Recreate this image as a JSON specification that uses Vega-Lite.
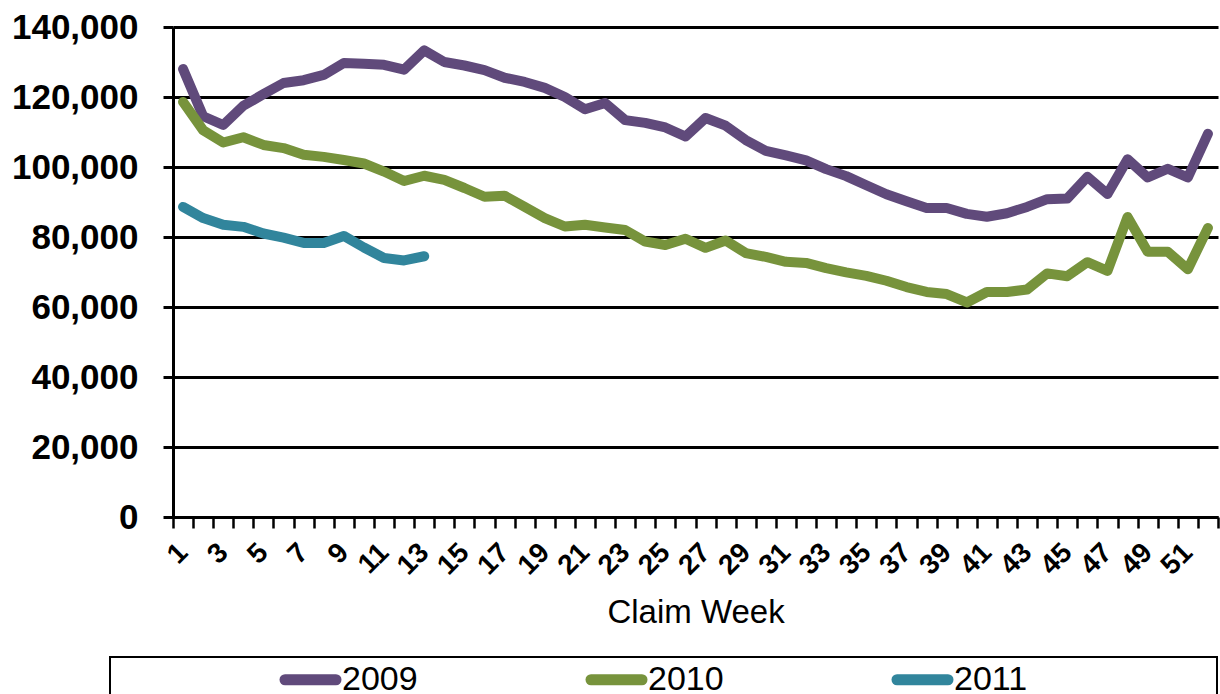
{
  "$schema": "https://vega.github.io/schema/vega-lite/v6.json",
  "width": 1045,
  "height": 490,
  "autosize": "none",
  "padding": {"left": 173, "top": 27, "right": 2, "bottom": 177},
  "background": "white",
  "datasets": {
    "claims": [
      {"week":1,"year":"2009","claims":128000},{"week":2,"year":"2009","claims":114500},{"week":3,"year":"2009","claims":112000},{"week":4,"year":"2009","claims":117500},{"week":5,"year":"2009","claims":120800},{"week":6,"year":"2009","claims":124000},{"week":7,"year":"2009","claims":124800},{"week":8,"year":"2009","claims":126300},{"week":9,"year":"2009","claims":129700},{"week":10,"year":"2009","claims":129500},{"week":11,"year":"2009","claims":129200},{"week":12,"year":"2009","claims":127800},{"week":13,"year":"2009","claims":133300},{"week":14,"year":"2009","claims":130000},{"week":15,"year":"2009","claims":129000},{"week":16,"year":"2009","claims":127700},{"week":17,"year":"2009","claims":125500},{"week":18,"year":"2009","claims":124300},{"week":19,"year":"2009","claims":122600},{"week":20,"year":"2009","claims":120000},{"week":21,"year":"2009","claims":116500},{"week":22,"year":"2009","claims":118300},{"week":23,"year":"2009","claims":113400},{"week":24,"year":"2009","claims":112600},{"week":25,"year":"2009","claims":111300},{"week":26,"year":"2009","claims":108700},{"week":27,"year":"2009","claims":114000},{"week":28,"year":"2009","claims":111800},{"week":29,"year":"2009","claims":107700},{"week":30,"year":"2009","claims":104600},{"week":31,"year":"2009","claims":103300},{"week":32,"year":"2009","claims":101900},{"week":33,"year":"2009","claims":99400},{"week":34,"year":"2009","claims":97400},{"week":35,"year":"2009","claims":94800},{"week":36,"year":"2009","claims":92200},{"week":37,"year":"2009","claims":90200},{"week":38,"year":"2009","claims":88300},{"week":39,"year":"2009","claims":88300},{"week":40,"year":"2009","claims":86600},{"week":41,"year":"2009","claims":85800},{"week":42,"year":"2009","claims":86800},{"week":43,"year":"2009","claims":88600},{"week":44,"year":"2009","claims":90800},{"week":45,"year":"2009","claims":91000},{"week":46,"year":"2009","claims":97200},{"week":47,"year":"2009","claims":92300},{"week":48,"year":"2009","claims":102200},{"week":49,"year":"2009","claims":97000},{"week":50,"year":"2009","claims":99500},{"week":51,"year":"2009","claims":97000},{"week":52,"year":"2009","claims":109500},
      {"week":1,"year":"2010","claims":118600},{"week":2,"year":"2010","claims":110500},{"week":3,"year":"2010","claims":107000},{"week":4,"year":"2010","claims":108500},{"week":5,"year":"2010","claims":106300},{"week":6,"year":"2010","claims":105400},{"week":7,"year":"2010","claims":103500},{"week":8,"year":"2010","claims":102900},{"week":9,"year":"2010","claims":102000},{"week":10,"year":"2010","claims":101000},{"week":11,"year":"2010","claims":98700},{"week":12,"year":"2010","claims":96000},{"week":13,"year":"2010","claims":97500},{"week":14,"year":"2010","claims":96300},{"week":15,"year":"2010","claims":94000},{"week":16,"year":"2010","claims":91500},{"week":17,"year":"2010","claims":91800},{"week":18,"year":"2010","claims":88600},{"week":19,"year":"2010","claims":85400},{"week":20,"year":"2010","claims":83000},{"week":21,"year":"2010","claims":83500},{"week":22,"year":"2010","claims":82700},{"week":23,"year":"2010","claims":82000},{"week":24,"year":"2010","claims":78700},{"week":25,"year":"2010","claims":77700},{"week":26,"year":"2010","claims":79500},{"week":27,"year":"2010","claims":76900},{"week":28,"year":"2010","claims":79000},{"week":29,"year":"2010","claims":75400},{"week":30,"year":"2010","claims":74300},{"week":31,"year":"2010","claims":72900},{"week":32,"year":"2010","claims":72600},{"week":33,"year":"2010","claims":71100},{"week":34,"year":"2010","claims":69900},{"week":35,"year":"2010","claims":68900},{"week":36,"year":"2010","claims":67500},{"week":37,"year":"2010","claims":65700},{"week":38,"year":"2010","claims":64300},{"week":39,"year":"2010","claims":63700},{"week":40,"year":"2010","claims":61300},{"week":41,"year":"2010","claims":64300},{"week":42,"year":"2010","claims":64300},{"week":43,"year":"2010","claims":65000},{"week":44,"year":"2010","claims":69600},{"week":45,"year":"2010","claims":68800},{"week":46,"year":"2010","claims":72800},{"week":47,"year":"2010","claims":70300},{"week":48,"year":"2010","claims":85700},{"week":49,"year":"2010","claims":75800},{"week":50,"year":"2010","claims":75800},{"week":51,"year":"2010","claims":70800},{"week":52,"year":"2010","claims":82600},
      {"week":1,"year":"2011","claims":88600},{"week":2,"year":"2011","claims":85400},{"week":3,"year":"2011","claims":83500},{"week":4,"year":"2011","claims":82900},{"week":5,"year":"2011","claims":81000},{"week":6,"year":"2011","claims":79800},{"week":7,"year":"2011","claims":78300},{"week":8,"year":"2011","claims":78300},{"week":9,"year":"2011","claims":80300},{"week":10,"year":"2011","claims":77000},{"week":11,"year":"2011","claims":74000},{"week":12,"year":"2011","claims":73300},{"week":13,"year":"2011","claims":74500}
    ]
  },
  "data": {"name": "claims"},
  "mark": {"type": "line", "strokeWidth": 10, "strokeCap": "round", "strokeJoin": "round"},
  "encoding": {
    "x": {
      "field": "week",
      "type": "ordinal",
      "bandPosition": 0.5,
      "scale": {"type": "band", "paddingInner": 0, "paddingOuter": 0},
      "axis": {
        "title": "Claim Week",
        "labelAngle": -45,
        "labelAlign": "right",
        "labelBaseline": "middle",
        "labelExpr": "datum.value % 2 == 1 ? datum.label : ''",
        "labelOverlap": false,
        "tickBand": "extent",
        "grid": false,
        "domainColor": "black",
        "domainWidth": 3,
        "tickColor": "black",
        "tickWidth": 2.5,
        "tickSize": 11,
        "labelFont": "Liberation Sans",
        "labelFontWeight": "bold",
        "labelFontSize": 28,
        "labelColor": "black",
        "labelPadding": 20,
        "titleFont": "Liberation Sans",
        "titleFontSize": 33,
        "titleFontWeight": "normal",
        "titleColor": "black",
        "titleBaseline": "middle",
        "titleY": 95
      }
    },
    "y": {
      "field": "claims",
      "type": "quantitative",
      "scale": {"domain": [0, 140000], "nice": false, "zero": true},
      "axis": {
        "title": null,
        "values": [0, 20000, 40000, 60000, 80000, 100000, 120000, 140000],
        "format": ",.0f",
        "grid": true,
        "gridColor": "black",
        "gridWidth": 3,
        "gridOpacity": 1,
        "domainColor": "black",
        "domainWidth": 3,
        "tickColor": "black",
        "tickWidth": 3,
        "tickSize": 10,
        "labelFont": "Liberation Sans",
        "labelFontWeight": "bold",
        "labelFontSize": 35,
        "labelColor": "black",
        "labelPadding": 25
      }
    },
    "color": {
      "field": "year",
      "type": "nominal",
      "scale": {"domain": ["2009", "2010", "2011"], "range": ["#604A7B", "#77933C", "#31859C"]},
      "legend": {
        "orient": "none",
        "legendX": -63,
        "legendY": 630,
        "direction": "horizontal",
        "title": " ",
        "titleOrient": "right",
        "titleFontSize": 2,
        "titlePadding": 188,
        "strokeColor": "black",
        "padding": 2,
        "symbolType": "M-1.7,0H1.7",
        "symbolSize": 900,
        "symbolStrokeWidth": 11,
        "symbolOffset": 178,
        "labelFont": "Liberation Sans",
        "labelFontSize": 34,
        "labelColor": "black",
        "labelOffset": 11,
        "labelLimit": 300,
        "columnPadding": 0,
        "encode": {
          "symbols": {"update": {"strokeCap": {"value": "round"}}},
          "legend": {"update": {"strokeWidth": {"value": 2}}}
        }
      }
    }
  },
  "config": {"view": {"stroke": null}}
}
